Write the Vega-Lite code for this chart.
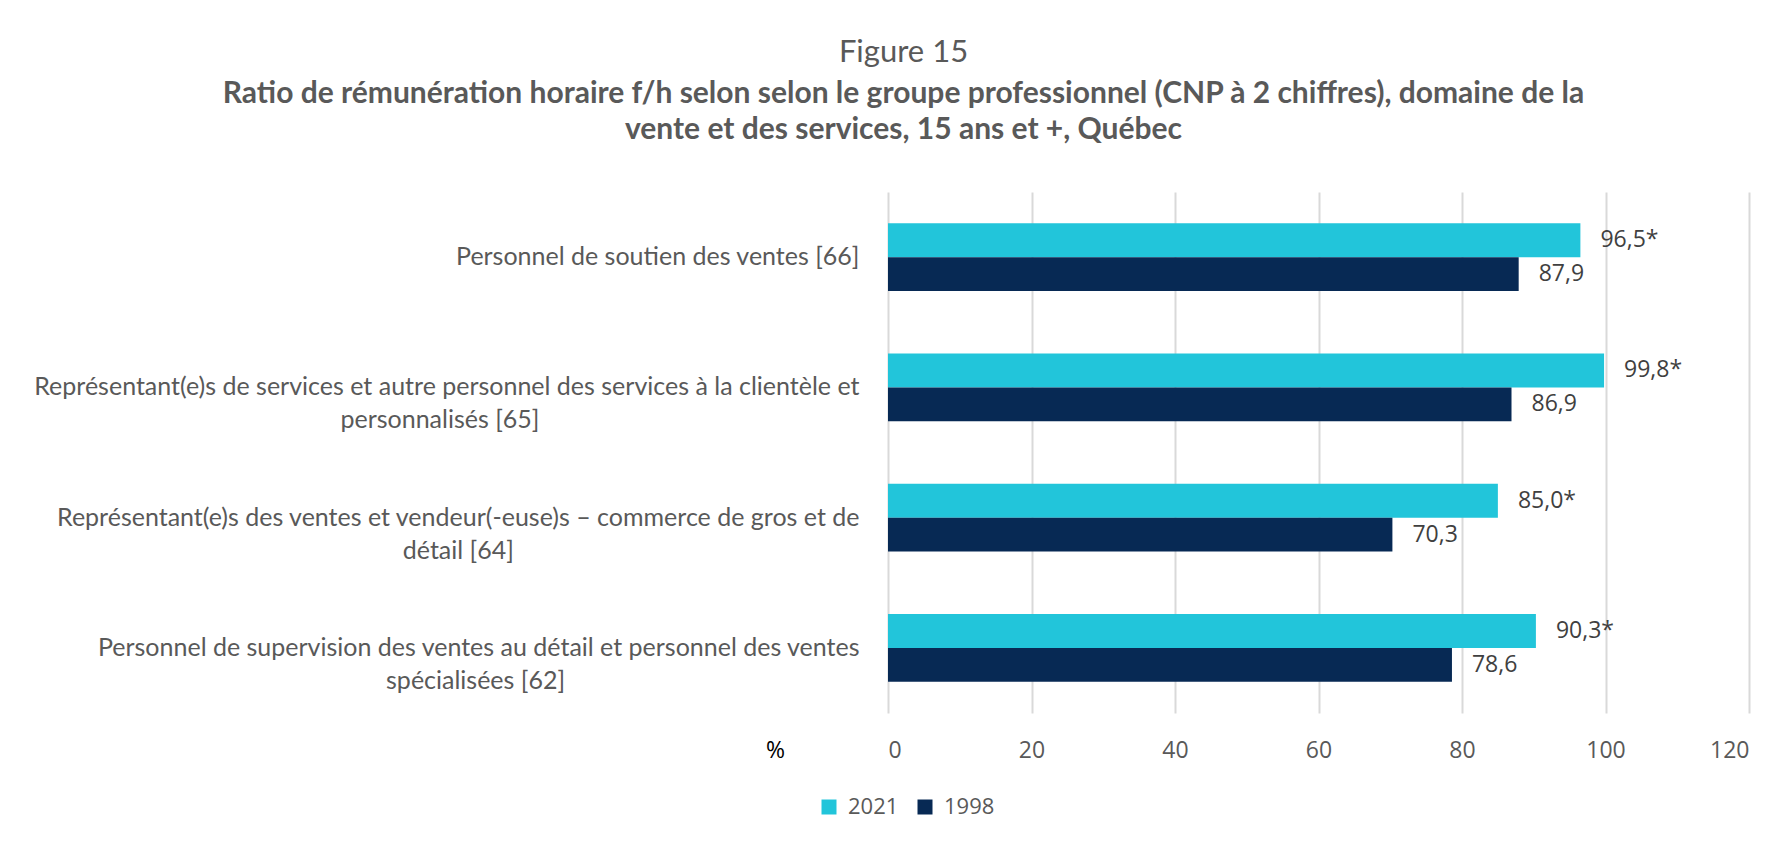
{
  "$schema": "https://vega.github.io/schema/vega-lite/v6.json",
  "width": 861,
  "height": 521,
  "autosize": {"type": "none"},
  "padding": {"left": 888, "top": 192, "right": 31, "bottom": 130},
  "background": "white",
  "config": {"view": {"stroke": null}},
  "title": {
    "text": "Figure 15",
    "subtitle": ["Ratio de rémunération horaire f/h selon selon le groupe professionnel (CNP à 2 chiffres), domaine de la", "vente et des services, 15 ans et +, Québec"],
    "anchor": "middle",
    "frame": "group",
    "dx": -415,
    "font": "Lato",
    "fontSize": 31,
    "fontWeight": "normal",
    "color": "#595959",
    "subtitleFont": "Lato",
    "subtitleFontSize": 30,
    "subtitleFontWeight": "bold",
    "subtitleColor": "#595959",
    "subtitleLineHeight": 36,
    "subtitlePadding": 10,
    "offset": 46
  },
  "data": {
    "values": [
      {"groupe": "Personnel de soutien des ventes [66]", "annee": "2021", "ratio": 96.5, "etiquette": "96,5*"},
      {"groupe": "Personnel de soutien des ventes [66]", "annee": "1998", "ratio": 87.9, "etiquette": "87,9"},
      {"groupe": "Représentant(e)s de services et autre personnel des services à la clientèle et personnalisés [65]", "annee": "2021", "ratio": 99.8, "etiquette": "99,8*"},
      {"groupe": "Représentant(e)s de services et autre personnel des services à la clientèle et personnalisés [65]", "annee": "1998", "ratio": 86.9, "etiquette": "86,9"},
      {"groupe": "Représentant(e)s des ventes et vendeur(-euse)s – commerce de gros et de détail [64]", "annee": "2021", "ratio": 85.0, "etiquette": "85,0*"},
      {"groupe": "Représentant(e)s des ventes et vendeur(-euse)s – commerce de gros et de détail [64]", "annee": "1998", "ratio": 70.3, "etiquette": "70,3"},
      {"groupe": "Personnel de supervision des ventes au détail et personnel des ventes spécialisées [62]", "annee": "2021", "ratio": 90.3, "etiquette": "90,3*"},
      {"groupe": "Personnel de supervision des ventes au détail et personnel des ventes spécialisées [62]", "annee": "1998", "ratio": 78.6, "etiquette": "78,6"}
    ]
  },
  "encoding": {
    "y": {
      "field": "groupe",
      "type": "nominal",
      "sort": null,
      "scale": {"paddingInner": 0.48, "paddingOuter": 0.24},
      "axis": {
        "title": null,
        "domain": false,
        "ticks": false,
        "tickSize": 0,
        "grid": false,
        "labelFont": "Lato",
        "labelFontSize": 25,
        "labelColor": "#595959",
        "labelAlign": "right",
        "labelBaseline": "middle",
        "labelLineHeight": 33,
        "labelLimit": 2000,
        "labelPadding": 29,
        "labelExpr": "indexof(datum.label,'[65]')>=0 ? ['Représentant(e)s de services et autre personnel des services à la clientèle et', pad('personnalisés [65]',68,'\u00a0') + '\u200b'] : indexof(datum.label,'[64]')>=0 ? ['Représentant(e)s des ventes et vendeur(-euse)s – commerce de gros et de', pad('détail [64]',65,'\u00a0') + '\u200b'] : indexof(datum.label,'[62]')>=0 ? ['Personnel de supervision des ventes au détail et personnel des ventes', pad('spécialisées [62]',63,'\u00a0') + '\u200b'] : datum.label"
      }
    },
    "yOffset": {"field": "annee", "type": "nominal", "sort": ["2021", "1998"]},
    "x": {
      "field": "ratio",
      "type": "quantitative",
      "scale": {"domain": [0, 120], "nice": false},
      "axis": {
        "values": [0, 20, 40, 60, 80, 100, 120],
        "title": "%",
        "titleX": -113,
        "titleY": 37,
        "titleAlign": "center",
        "titleBaseline": "middle",
        "titleFont": "Open Sans",
        "titleFontSize": 23,
        "titleFontWeight": "normal",
        "titleColor": "#000000",
        "domain": false,
        "ticks": false,
        "tickSize": 0,
        "grid": true,
        "gridColor": "#D9D9D9",
        "gridWidth": 2,
        "labelFont": "Open Sans",
        "labelFontSize": 23,
        "labelColor": "#595959",
        "labelBaseline": "middle",
        "labelPadding": 37
      }
    }
  },
  "layer": [
    {
      "mark": {"type": "bar"},
      "encoding": {
        "color": {
          "field": "annee",
          "type": "nominal",
          "scale": {"domain": ["2021", "1998"], "range": ["#22C5DA", "#072954"]},
          "legend": {
            "orient": "none",
            "legendX": -70,
            "legendY": 604,
            "direction": "horizontal",
            "title": null,
            "symbolType": "square",
            "symbolSize": 225,
            "symbolStrokeWidth": 0,
            "labelFont": "Open Sans",
            "labelFontSize": 22,
            "labelColor": "#595959",
            "labelOffset": 8,
            "columnPadding": 15
          }
        }
      }
    },
    {
      "mark": {"type": "text", "align": "left", "baseline": "middle", "dx": 20, "font": "Open Sans", "fontSize": 23, "color": "#404040"},
      "encoding": {"text": {"field": "etiquette", "type": "nominal"}}
    }
  ]
}
